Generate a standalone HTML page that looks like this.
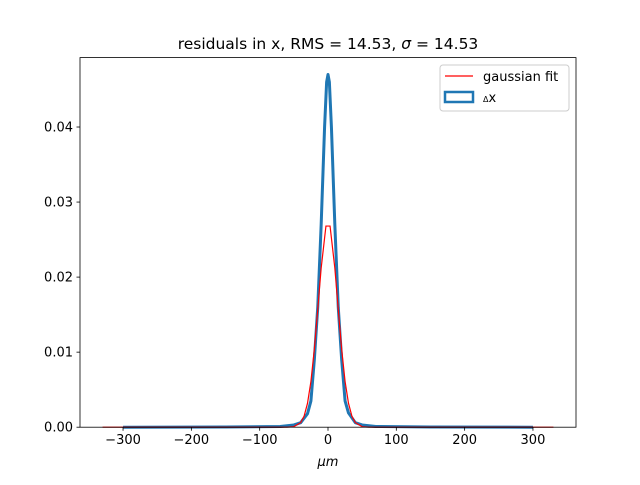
<!DOCTYPE html>
<html><head><meta charset="utf-8"><style>
body{margin:0;background:#fff;}
text{font-family:"DejaVu Sans","Liberation Sans",sans-serif;}
</style></head><body>
<svg id="chart" width="640" height="480" xmlns="http://www.w3.org/2000/svg">
<rect width="640" height="480" fill="#fff"/>
<text x="328" y="49" font-size="15.5" text-anchor="middle">residuals in x, RMS = 14.53, <tspan font-style="italic">σ</tspan> = 14.53</text>
<g id="plot"></g>
<g id="axes"></g>
<g>
<rect x="440" y="65" width="129" height="46" rx="3" fill="#fff" fill-opacity="0.8" stroke="#ccc"/>
<line x1="445" y1="76" x2="473" y2="76" stroke="red" stroke-width="1.2"/>
<text x="483" y="81" font-size="13">gaussian fit</text>
<rect x="445" y="92" width="28" height="10" fill="none" stroke="#1f77b4" stroke-width="2.5"/>
<text x="483" y="102" font-size="13"><tspan font-size="8">Δ</tspan>x</text>
</g>
<text x="328" y="466" font-size="13" text-anchor="middle" font-style="italic">μm</text>
</svg>
<script>
const fitX=[-330,-60,-50,-40,-35,-30,-25,-20,-15,-10,-5,-3,3,5,10,15,20,25,30,35,40,50,60,330];
const fitY=[0,0,0.00007,0.00061,0.00147,0.00318,0.0061,0.0104,0.0157,0.0212,0.0252,0.0268,0.0268,0.0252,0.0212,0.0157,0.0104,0.0061,0.00318,0.00147,0.00061,0.00007,0,0];
const histX=[-300,-150,-70,-50,-40,-30,-25,-20,-15,-10,-5,-2,0,2,5,10,15,20,25,30,40,50,70,150,300];
const histY=[0,0.00003,0.0001,0.0003,0.0006,0.0018,0.0035,0.009,0.016,0.027,0.040,0.046,0.047,0.046,0.040,0.027,0.016,0.009,0.0035,0.0019,0.0006,0.0003,0.0001,0.00003,0];
const xTicks=[-300,-200,-100,0,100,200,300];
const yTicks=[0,0.01,0.02,0.03,0.04];
const yTickLabels=["0.00","0.01","0.02","0.03","0.04"];
const L=80,R=576,T=57.6,B=427.2;
const xmin=-363,xmax=363,ymin=0,ymax=0.04925;
function sx(v){return L+(v-xmin)/(xmax-xmin)*(R-L);}
function sy(v){return B-(v-ymin)/(ymax-ymin)*(B-T);}
const NS="http://www.w3.org/2000/svg";
const plot=document.getElementById('plot'),axes=document.getElementById('axes');
function mk(tag,attrs,parent){const e=document.createElementNS(NS,tag);for(const k in attrs)e.setAttribute(k,attrs[k]);parent.appendChild(e);return e;}
let d='';histX.forEach((x,i)=>{d+=(i?'L':'M')+sx(x).toFixed(2)+','+sy(histY[i]).toFixed(2);});
const hp=mk('path',{d:d,fill:'none',stroke:'#1f77b4','stroke-width':3,'stroke-linejoin':'round'},plot);


let d2='';fitX.forEach((x,i)=>{d2+=(i?'L':'M')+sx(x).toFixed(2)+','+sy(fitY[i]).toFixed(2);});
const fp=mk('path',{d:d2,fill:'none',stroke:'red','stroke-width':1.2},plot);


const fr=mk('rect',{x:L,y:T,width:R-L,height:B-T,fill:'none',stroke:'#000','stroke-width':0.8},axes);


xTicks.forEach(v=>{const x=sx(v);mk('line',{x1:x,y1:B,x2:x,y2:B+3.5,stroke:'#000','stroke-width':0.8},axes);
const t=mk('text',{x:x,y:B+17,'font-size':13,'text-anchor':'middle'},axes);t.textContent=(v<0?'−'+(-v):v);

});
yTicks.forEach((v,i)=>{const y=sy(v);mk('line',{x1:L-3.5,y1:y,x2:L,y2:y,stroke:'#000','stroke-width':0.8},axes);
const t=mk('text',{x:L-7,y:y+4.5,'font-size':13,'text-anchor':'end'},axes);t.textContent=yTickLabels[i];

});
</script>
</body></html>
